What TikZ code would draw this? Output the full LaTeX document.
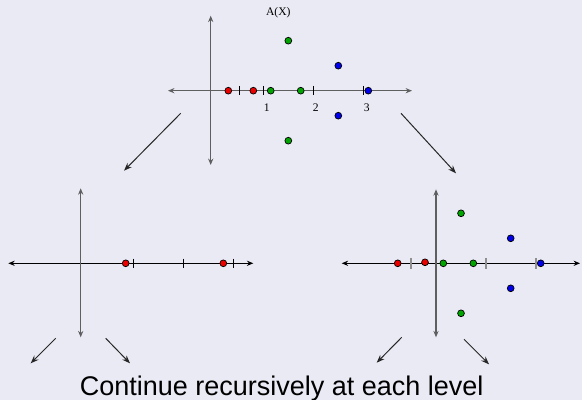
\documentclass[tikz,border=0pt]{standalone}
\usepackage{fontspec}
\setmainfont{Liberation Serif}
\newfontfamily\captionfont{Liberation Sans}
\usetikzlibrary{arrows.meta, positioning}
\definecolor{slidebg}{RGB}{234,234,245}
\definecolor{rootred}{RGB}{235,0,0}
\definecolor{rootgreen}{RGB}{0,165,0}
\definecolor{rootblue}{RGB}{0,0,235}
\definecolor{axisgray}{RGB}{95,95,95}

\begin{document}
\begin{tikzpicture}[
    x=0.5pt, y=-0.5pt,
    axis/.style={line width=0.6pt, {Stealth[length=3.2pt,width=2.6pt]}-{Stealth[length=3.2pt,width=2.6pt]}},
    tick/.style={line width=0.55pt},
    rootdot/.style={circle, draw=black, line width=0.35pt, inner sep=0pt, minimum size=3.4pt},
    ticklabel/.style={font=\fontsize{5.8}{6}\selectfont, inner sep=0pt},
    recurse/.style={line width=0.5pt, draw=black!85, -{Stealth[length=4pt,width=3pt]}}
]
\fill[slidebg] (0,0) rectangle (582,400);
\useasboundingbox (0,0) rectangle (582,400);

% Top level: A(X)
\coordinate (tw) at (168,90.7);
\coordinate (te) at (412,90.7);
\coordinate (tn) at (210.7,15.7);
\coordinate (ts) at (210.7,165);
\draw[axis, axisgray] (tw) -- (te);
\draw[axis, axisgray] (tn) -- (ts);
\foreach \x in {239.3, 263.3, 313.3, 363.3}
  \draw[tick] (\x,86) -- (\x,95.5);
\node[ticklabel] (tone) at (266.7,108) {1};
\node[ticklabel] (ttwo) at (315.7,108) {2};
\node[ticklabel] (tthree) at (366.7,108) {3};
\node[ticklabel] (title) at (278.3,12.3) {A(X)};
\node[rootdot, fill=rootred] (tr1) at (228.3,90.7) {};
\node[rootdot, fill=rootred] (tr2) at (253.3,90.7) {};
\node[rootdot, fill=rootgreen] (tg1) at (270.7,90.7) {};
\node[rootdot, fill=rootgreen] (tg2) at (300.7,90.7) {};
\node[rootdot, fill=rootgreen] (tg3) at (288.3,40.7) {};
\node[rootdot, fill=rootgreen] (tg4) at (288.3,140.7) {};
\node[rootdot, fill=rootblue] (tb1) at (338.3,65.7) {};
\node[rootdot, fill=rootblue] (tb2) at (338.3,115.7) {};
\node[rootdot, fill=rootblue] (tb3) at (368.3,90.7) {};

% Left child
\coordinate (lw) at (8.3,263.3);
\coordinate (le) at (253.3,263.3);
\coordinate (ln) at (80.7,188.3);
\coordinate (ls) at (80.7,337.3);
\draw[axis, black] (lw) -- (le);
\draw[axis, axisgray] (ln) -- (ls);
\foreach \x in {133.3, 183.3, 233.3}
  \draw[tick] (\x,258.6) -- (\x,268);
\node[rootdot, fill=rootred] (lr1) at (125.7,263.3) {};
\node[rootdot, fill=rootred] (lr2) at (223.3,263.3) {};

% Right child
\coordinate (rw) at (341.7,263.3);
\coordinate (re) at (580,263.3);
\coordinate (rn) at (436,189.3);
\coordinate (rs) at (436,337.3);
\draw[axis, black] (rw) -- (re);
\draw[axis, axisgray] (rn) -- (rs);
\foreach \x in {411, 486, 536}
  \draw[tick, axisgray!70] (\x,258) -- (\x,268.6);
\node[rootdot, fill=rootred] (rr1) at (397.7,263.3) {};
\node[rootdot, fill=rootred] (rr2) at (425,262.3) {};
\node[rootdot, fill=rootgreen] (rg1) at (443.3,263.3) {};
\node[rootdot, fill=rootgreen] (rg2) at (473.3,263.3) {};
\node[rootdot, fill=rootgreen] (rg3) at (461,213.3) {};
\node[rootdot, fill=rootgreen] (rg4) at (461,313.3) {};
\node[rootdot, fill=rootblue] (rb1) at (510.7,238.3) {};
\node[rootdot, fill=rootblue] (rb2) at (510.7,288.3) {};
\node[rootdot, fill=rootblue] (rb3) at (540.7,263.3) {};

% Recursion arrows
\coordinate (tla) at (180.7,113.3);
\coordinate (tlb) at (124,170.7);
\coordinate (tra) at (401,113.3);
\coordinate (trb) at (456,173.3);
\draw[recurse] (tla) -- (tlb);
\draw[recurse] (tra) -- (trb);
\coordinate (lla) at (55.7,338.3);
\coordinate (llb) at (30.7,363.3);
\coordinate (lra) at (105.7,338.3);
\coordinate (lrb) at (130,363.3);
\draw[recurse] (lla) -- (llb);
\draw[recurse] (lra) -- (lrb);
\coordinate (rla) at (401.7,337.3);
\coordinate (rlb) at (376.7,362.7);
\coordinate (rra) at (464,339.3);
\coordinate (rrb) at (489,364.3);
\draw[recurse] (rla) -- (rlb);
\draw[recurse] (rra) -- (rrb);

% Caption
\node[font=\captionfont\fontsize{13.5}{15}\selectfont, anchor=base, inner sep=0pt] (caption) at (281.7,395) {Continue recursively at each level};
\end{tikzpicture}
\end{document}
